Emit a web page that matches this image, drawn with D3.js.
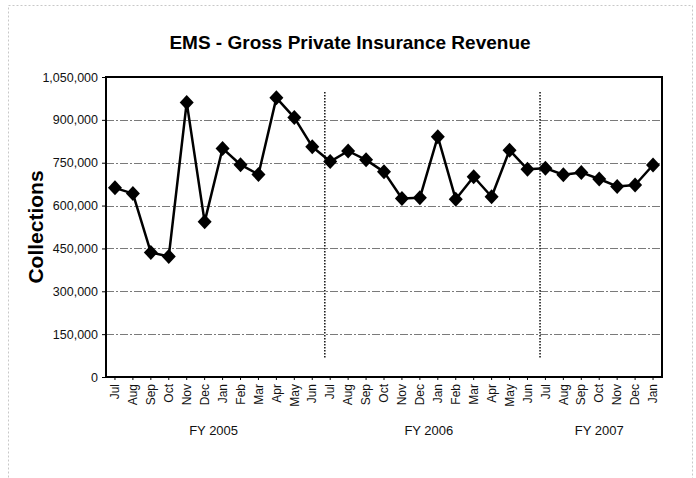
<!DOCTYPE html>
<html>
<head>
<meta charset="utf-8">
<script src="https://cdn.jsdelivr.net/npm/d3@7/dist/d3.min.js"></script>
<style>
body { margin: 0; background: #fff; }
text { font-family: Arial, "Liberation Sans", sans-serif; }
</style>
</head>
<body>
<div id="chart"></div>
<script>
var months = ["Jul", "Aug", "Sep", "Oct", "Nov", "Dec", "Jan", "Feb", "Mar", "Apr", "May", "Jun",
    "Jul", "Aug", "Sep", "Oct", "Nov", "Dec", "Jan", "Feb", "Mar", "Apr", "May", "Jun",
    "Jul", "Aug", "Sep", "Oct", "Nov", "Dec", "Jan"];
var collections = [662000, 642000, 436000, 422000, 961000, 543000, 800000, 743000, 709000, 977000, 908000, 806000,
    754000, 791000, 760000, 718000, 625000, 627000, 841000, 622000, 701000, 631000, 794000, 727000,
    731000, 708000, 716000, 693000, 667000, 672000, 742000];
var fiscalYears = ["FY 2005", "FY 2006", "FY 2007"];
var fyStart = [0, 12, 24];
var fyEnd = [11, 23, 30];
var yTicks = [0, 150000, 300000, 450000, 600000, 750000, 900000, 1050000];

var width = 696,
    height = 478;

var margin = {left: 106, right: 34, top: 77, bottom: 101};

var svg = d3.select("#chart")
    .append("svg")
    .attr("width", width)
    .attr("height", height);

// faint frame of the scanned page
svg.append("rect")
    .attr("x", 8.5).attr("y", 5.5)
    .attr("width", 684).attr("height", 490)
    .attr("fill", "none")
    .attr("stroke", "#c8c8c8")
    .attr("stroke-dasharray", "2,2");

var x = d3.scaleBand()
    .domain(d3.range(months.length))
    .range([margin.left, width - margin.right]);

var y = d3.scaleLinear()
    .domain([0, 1050000])
    .range([height - margin.bottom, margin.top]);

var fmt = d3.format(",");

// gridlines
svg.append("g")
    .selectAll("line")
    .data(yTicks.slice(1, -1))
    .enter().append("line")
    .attr("x1", margin.left).attr("x2", width - margin.right)
    .attr("y1", function (d) { return Math.round(y(d)) + 0.5; })
    .attr("y2", function (d) { return Math.round(y(d)) + 0.5; })
    .attr("stroke", "#7a7a7a")
    .attr("stroke-width", 1)
    .attr("stroke-dasharray", "8,2,2,2");

// fiscal year separators
svg.append("g")
    .selectAll("line")
    .data(fyStart.slice(1))
    .enter().append("line")
    .attr("x1", function (d) { return x(d) + x.bandwidth() * 0.2; })
    .attr("x2", function (d) { return x(d) + x.bandwidth() * 0.2; })
    .attr("y1", 92).attr("y2", 358)
    .attr("stroke", "#111")
    .attr("stroke-width", 1.5)
    .attr("stroke-dasharray", "1.5,1.5");

// plot border
svg.append("rect")
    .attr("x", margin.left).attr("y", margin.top)
    .attr("width", width - margin.left - margin.right)
    .attr("height", height - margin.top - margin.bottom)
    .attr("fill", "none")
    .attr("stroke", "#000")
    .attr("stroke-width", 2);

// y axis
var yAxis = svg.append("g")
    .attr("transform", "translate(" + margin.left + ",0)")
    .call(d3.axisLeft(y).tickValues(yTicks).tickFormat(fmt).tickSize(4).tickPadding(4));
yAxis.select(".domain").remove();
yAxis.selectAll("text").attr("font-size", "12.5px").attr("fill", "#111").attr("font-family", "Arial, 'Liberation Sans', sans-serif");
yAxis.selectAll("line").attr("stroke", "#000");

// x axis
var xAxis = svg.append("g")
    .attr("transform", "translate(0," + (height - margin.bottom) + ")")
    .call(d3.axisBottom(x).tickFormat(function (i) { return months[i]; }).tickSize(3).tickPadding(5));
xAxis.select(".domain").remove();
xAxis.selectAll("line").attr("stroke", "#000");
xAxis.selectAll("text")
    .attr("font-size", "12px")
    .attr("fill", "#111")
    .attr("font-family", "Arial, 'Liberation Sans', sans-serif")
    .attr("transform", "rotate(-90)")
    .attr("text-anchor", "end")
    .attr("x", -7)
    .attr("y", 0)
    .attr("dy", "0.35em");

// fiscal year labels
svg.append("g")
    .selectAll("text")
    .data(fiscalYears)
    .enter().append("text")
    .attr("x", function (d, i) {
        return (x(fyStart[i]) + x(fyEnd[i]) + x.bandwidth()) / 2;
    })
    .attr("y", 435)
    .attr("text-anchor", "middle")
    .attr("font-size", "13px")
    .attr("fill", "#111")
    .text(function (d) { return d; });

// line
var line = d3.line()
    .x(function (d, i) { return x(i) + x.bandwidth() / 2; })
    .y(function (d) { return y(d); });

svg.append("path")
    .datum(collections)
    .attr("d", line)
    .attr("fill", "none")
    .attr("stroke", "#000")
    .attr("stroke-width", 2.5)
    .attr("stroke-linejoin", "round");

svg.append("g")
    .selectAll("path")
    .data(collections)
    .enter().append("path")
    .attr("transform", function (d, i) {
        return "translate(" + (x(i) + x.bandwidth() / 2) + "," + y(d) + ")";
    })
    .attr("d", "M0,-7.5L7,0L0,7.5L-7,0Z")
    .attr("fill", "#000");

// titles
svg.append("text")
    .attr("x", 350)
    .attr("y", 49)
    .attr("text-anchor", "middle")
    .attr("font-size", "19px")
    .attr("font-weight", "bold")
    .attr("fill", "#000")
    .text("EMS - Gross Private Insurance Revenue");

svg.append("text")
    .attr("transform", "translate(43,227) rotate(-90)")
    .attr("text-anchor", "middle")
    .attr("font-size", "21px")
    .attr("font-weight", "bold")
    .attr("fill", "#000")
    .text("Collections");
</script>
</body>
</html>
